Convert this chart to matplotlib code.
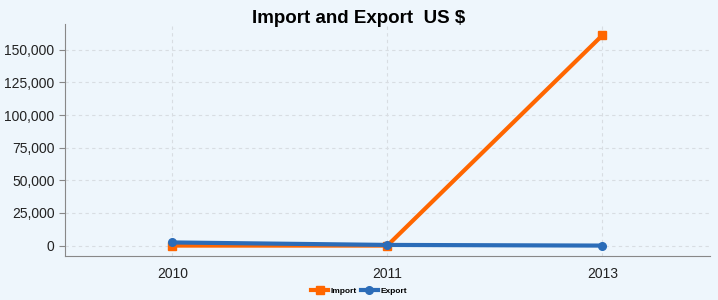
import matplotlib.pyplot as plt
from matplotlib.ticker import FuncFormatter

plt.rcParams['font.family'] = ['Liberation Sans', 'DejaVu Sans']

years = ['2010', '2011', '2013']
imports = [0, 0, 161000]
exports = [2400, 500, 0]

bg = '#eef6fc'
fig = plt.figure(figsize=(7.18, 3.0), dpi=100, facecolor=bg)
ax = fig.add_axes([0.0905, 0.147, 0.898, 0.773], facecolor=bg)

x = range(len(years))
ax.plot(x, imports, color='#ff6600', lw=3, marker='s', ms=5.5, label='Import', zorder=3)
ax.plot(x, exports, color='#2b6cb8', lw=3, marker='o', ms=5.5, label='Export', zorder=4)

ax.set_xlim(-0.5, 2.5)
ax.set_ylim(-7900, 169700)
ax.set_xticks(list(x))
ax.set_xticklabels(years)
ax.set_yticks(range(0, 150001, 25000))
ax.yaxis.set_major_formatter(FuncFormatter(lambda v, p: f'{int(v):,}'))

ax.grid(True, color='#d8dde2', ls=(0, (3, 3)), lw=0.8)
for s in ['top', 'right']:
    ax.spines[s].set_visible(False)
for s in ['left', 'bottom']:
    ax.spines[s].set_color('#888888')
ax.tick_params(axis='y', length=4, color='#888888', labelsize=10)
ax.tick_params(axis='x', length=0, labelsize=10, pad=8)
for t in ax.get_yticklabels() + ax.get_xticklabels():
    t.set_color('#222222')

fig.suptitle('Import and Export  US $', y=0.968, fontsize=13.5, fontweight='bold')

fig.legend(loc='center', bbox_to_anchor=(0.5, 0.03), ncol=2, frameon=False,
           handlelength=2.0, columnspacing=0.5, handletextpad=0.3,
           prop={'weight': 'bold', 'size': 6})

fig.savefig('out.png', dpi=100, facecolor=bg)
